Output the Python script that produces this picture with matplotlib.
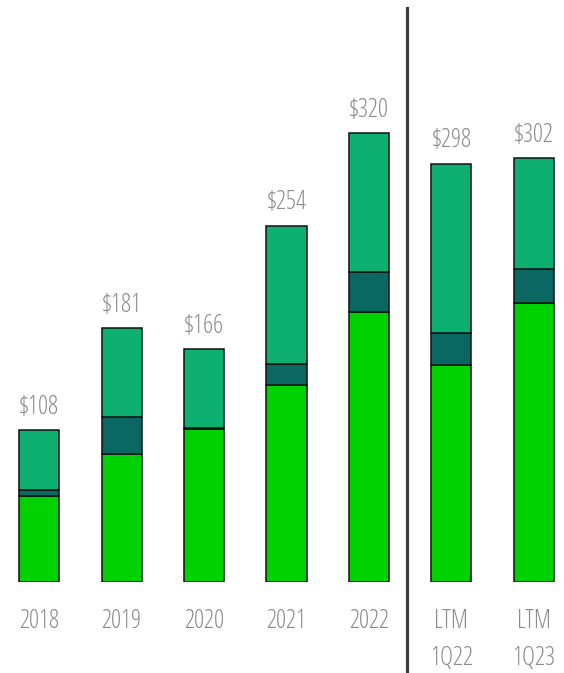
import matplotlib
matplotlib.use("Agg")
import matplotlib.pyplot as plt

categories = ["2018", "2019", "2020", "2021", "2022", "LTM\n1Q22", "LTM\n1Q23"]
bottom_seg = [61.3, 91.2, 109.0, 140.4, 192.4, 154.7, 198.9]
middle_seg = [4.3, 26.4, 1.0, 15.0, 28.5, 22.8, 24.2]
totals = [108, 181, 166, 254, 320, 298, 302]
top_seg = [t - b - m for t, b, m in zip(totals, bottom_seg, middle_seg)]
labels = ["$108", "$181", "$166", "$254", "$320", "$298", "$302"]

c_bottom = "#00D100"
c_middle = "#0A6762"
c_top = "#0EB071"
txt = "#8a8a8a"
font = dict(family="Open Sans", fontweight=300, fontstretch="semi-condensed",
            fontsize=18, color=txt)

fig = plt.figure(figsize=(5.64, 6.73), dpi=100)
ax = fig.add_axes([0, 91 / 673, 1, 582 / 673])
x = list(range(len(categories)))
w = 0.485
ax.bar(x, bottom_seg, w, color=c_bottom, edgecolor="#111111", linewidth=1.1)
ax.bar(x, middle_seg, w, bottom=bottom_seg, color=c_middle, edgecolor="#111111", linewidth=1.1)
b2 = [b + m for b, m in zip(bottom_seg, middle_seg)]
ax.bar(x, top_seg, w, bottom=b2, color=c_top, edgecolor="#111111", linewidth=1.1)

ax.set_xlim(-0.473, 6.364)
ax.set_ylim(0, 582 / 1.403)
for xi, t, l in zip(x, totals, labels):
    ax.annotate(l, (xi, t), xytext=(0, 11.9), textcoords="offset points",
                ha="center", va="baseline", **font)

for xi, c in zip(x, categories):
    for j, line in enumerate(c.split("\n")):
        ax.annotate(line, (xi, 0), xytext=(0, -33.1 - 26.6 * j),
                    textcoords="offset points", ha="center", va="baseline", **font)

ax.plot([4.46, 4.46], [-0.16, 0.986], transform=ax.get_xaxis_transform(),
        color="#3d3d3d", linewidth=2.3, clip_on=False)

ax.axis("off")
fig.savefig("out.png", dpi=100)
